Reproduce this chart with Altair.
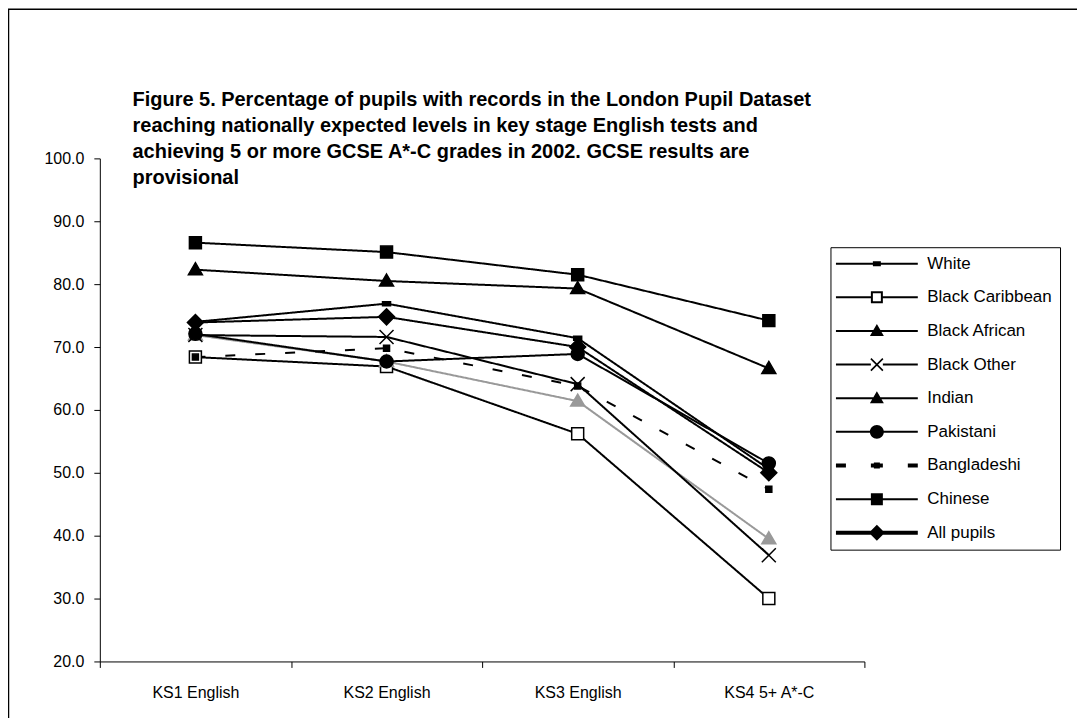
import altair as alt
import pandas as pd

categories = ["KS1 English", "KS2 English", "KS3 English", "KS4 5+ A*-C"]
groups = ["White", "Black Caribbean", "Black African", "Black Other", "Indian",
          "Pakistani", "Bangladeshi", "Chinese", "All pupils"]

white = [74.0, 76.9, 71.4, 50.6]
black_caribbean = [68.4, 66.9, 56.2, 30.0]
black_african = [71.9, 67.7, 61.4, 39.5]
black_other = [71.9, 71.6, 64.1, 36.9]
indian = [82.3, 80.5, 79.3, 66.6]
pakistani = [72.1, 67.7, 68.9, 51.5]
bangladeshi = [68.4, 69.8, 63.8, 47.4]
chinese = [86.6, 85.1, 81.5, 74.2]
all_pupils = [73.9, 74.8, 70.0, 50.0]

series_values = [white, black_caribbean, black_african, black_other, indian,
                 pakistani, bangladeshi, chinese, all_pupils]

rows = []
for g, vals in zip(groups, series_values):
    for c, v in zip(categories, vals):
        rows.append({"Stage": c, "Group": g, "Percent": v})
df = pd.DataFrame(rows)

FONT = "Liberation Sans, Arial, sans-serif"
GREY = "#999999"

# marker shapes (pixel units, symbol size 4 -> scale 1)
marker_paths = [
    "M-4,-2H4V2H-4Z",
    "M-6,-6H6V6H-6Z",
    "M0,-7L7,5H-7Z",
    "M-7,-7L7,7M-7,7L7,-7",
    "M0,-7L7,5H-7Z",
    "M-6.5,0A6.5,6.5 0 1,1 6.5,0A6.5,6.5 0 1,1 -6.5,0Z",
    "M-3,-3H3V3H-3Z",
    "M-6,-6H6V6H-6Z",
    "M0,-8L8,0L0,8L-8,0Z",
]
stroke_colors = ["black", "black", GREY, "black", "black", "black", "black", "black", "black"]
fill_colors = ["black", "white", GREY, "black", "black", "black", "black", "black", "black"]
line_widths = [2, 2, 2, 2, 2, 2, 4, 2, 4]
dashes = [[1, 0], [1, 0], [1, 0], [1, 0], [1, 0], [1, 0], [10, 20], [1, 0], [1, 0]]

# legend symbols: line + marker drawn as filled paths (pixel units)
LINE = "M-11,-1H71V1H-11Z"
legend_paths = [
    LINE + "M26,-2.5H34V2.5H26Z",
    "M-11,-1H24V1H-11Z M36,-1H71V1H36Z M24,-6H36V6H24Z M26,-4V4H34V-4Z",
    LINE + "M30,-7L37,5H23Z",
    "M-11,-1H24V1H-11Z M36,-1H71V1H36Z M24.57,-6.57L36.57,5.43L35.43,6.57L23.43,-5.43Z M23.43,5.43L35.43,-6.57L36.57,-5.43L24.57,6.57Z",
    LINE + "M30,-7L37,5H23Z",
    LINE + "M23,0A7,7 0 1,1 37,0A7,7 0 1,1 23,0Z",
    "M-11,-2H-1V2H-11Z M24,-2H36V2H24Z M27,-3H33V3H27Z M61,-2H71V2H61Z",
    LINE + "M24,-6H36V6H24Z",
    "M-11,-2H71V2H-11Z M30,-8L38,0L30,8L22,0Z",
]
legend_fill = ["black", "black", GREY, "black", "black", "black", "black", "black", "black"]

x_enc = alt.X("Stage:N", sort=categories,
              scale=alt.Scale(domain=categories, paddingInner=0, paddingOuter=0),
              axis=alt.Axis(title=None, labelAngle=0, tickBand="extent", labelPadding=17))
y_enc = alt.Y("Percent:Q",
              scale=alt.Scale(domain=[20, 100], nice=False, zero=False),
              axis=alt.Axis(title=None, values=[20, 30, 40, 50, 60, 70, 80, 90, 100],
                            format=".1f", labelPadding=10))

base = alt.Chart(df)

lines = base.mark_line().encode(
    x=x_enc, y=y_enc,
    detail="Group:N",
    stroke=alt.Stroke("Group:N", scale=alt.Scale(domain=groups, range=stroke_colors), legend=None),
    strokeWidth=alt.StrokeWidth("Group:N", scale=alt.Scale(domain=groups, range=line_widths), legend=None),
    strokeDash=alt.StrokeDash("Group:N", scale=alt.Scale(domain=groups, range=dashes), legend=None),
)

points = base.mark_point(opacity=1, size=4, strokeWidth=1.5).encode(
    x=x_enc, y=y_enc,
    shape=alt.Shape("Group:N", scale=alt.Scale(domain=groups, range=marker_paths), legend=None),
    fill=alt.Fill("Group:N", scale=alt.Scale(domain=groups, range=fill_colors), legend=None),
    stroke=alt.Stroke("Group:N", scale=alt.Scale(domain=groups, range=stroke_colors), legend=None),
)

leg_params = dict(title=None, orient="none", legendX=732, legendY=89,
                  padding=8, strokeColor="black", fillColor="white",
                  labelFont=FONT, labelFontSize=17, labelColor="black",
                  labelOffset=72, rowPadding=15.7, symbolSize=4,
                  symbolStrokeWidth=0, symbolOpacity=1, labelLimit=300)

legend_layer = base.mark_point(opacity=0, filled=True, size=4).encode(
    x=x_enc, y=y_enc,
    shape=alt.Shape("Group:N", scale=alt.Scale(domain=groups, range=legend_paths),
                    legend=alt.Legend(**leg_params)),
    color=alt.Color("Group:N", scale=alt.Scale(domain=groups, range=legend_fill),
                    legend=alt.Legend(**leg_params)),
)

frame = alt.Chart(pd.DataFrame({"f": [0]})).mark_rect(
    fillOpacity=0, stroke="black", strokeWidth=1.5
).encode(x=alt.value(-91.5), x2=alt.value(1400), y=alt.value(-149.5), y2=alt.value(1200))

title_lines = [
    "Figure 5. Percentage of pupils with records in the London Pupil Dataset",
    "reaching nationally expected levels in key stage English tests and",
    "achieving 5 or more GCSE A*-C grades in 2002. GCSE results are",
    "provisional",
]

chart = alt.layer(frame, lines, points, legend_layer).resolve_scale(
    shape="independent"
).properties(
    width=766, height=504,
    background="white",
    autosize=alt.AutoSizeParams(type="none"),
    padding={"left": 92, "top": 150, "right": 213, "bottom": 56},
    title=alt.TitleParams(text=title_lines, anchor="start", font=FONT, fontSize=20,
                          fontWeight="bold", color="black", lineHeight=26, dx=125,
                          offset=-180),
).configure_view(stroke=None).configure_axis(
    grid=False, domainColor="black", tickColor="black", labelColor="black",
    labelFont=FONT, labelFontSize=16, tickSize=6, domainWidth=1, tickWidth=1
)

chart.save("out.html", embed_options={"renderer": "svg", "actions": False})
